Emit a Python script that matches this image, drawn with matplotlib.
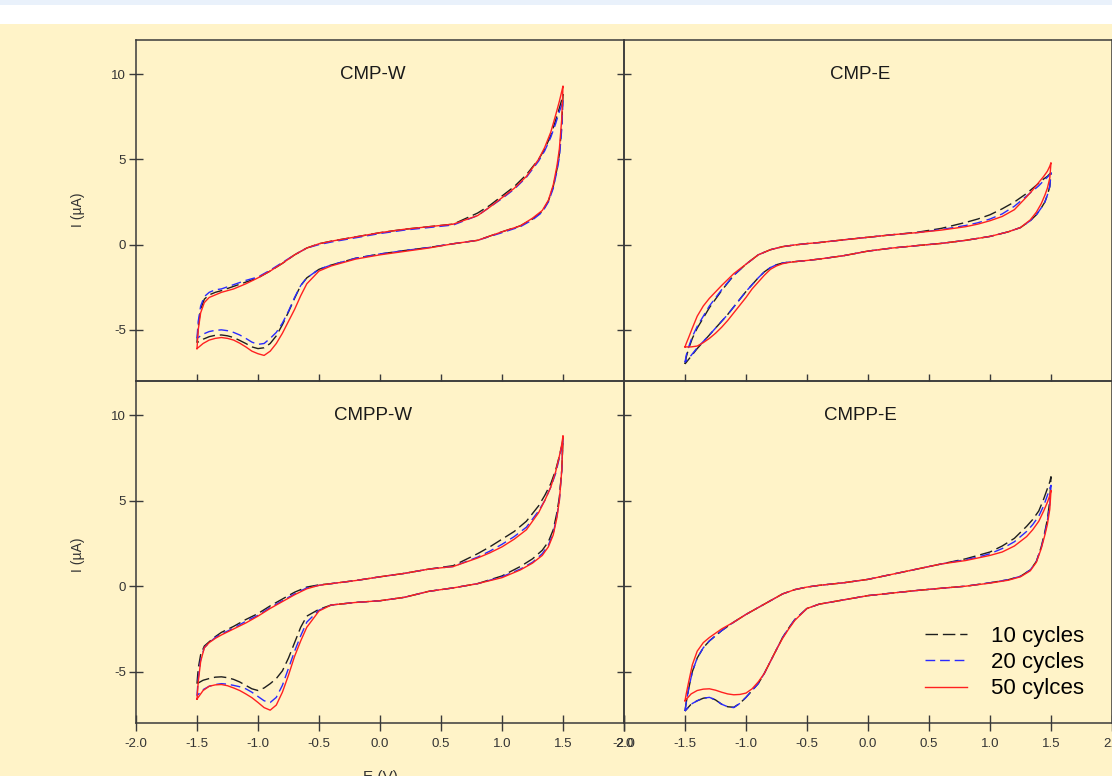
import matplotlib.pyplot as plt
import matplotlib.patches as mpatches

plt.rcParams['font.family'] = ['Liberation Sans', 'DejaVu Sans']
plt.rcParams['axes.unicode_minus'] = False

# potential grid (V): forward scan, then reverse scan
E_UP = [-1.50, -1.49, -1.47, -1.44, -1.40, -1.35, -1.30, -1.20, -1.10, -1.00, -0.90,
        -0.80, -0.70, -0.60, -0.50, -0.40, -0.20, 0.00, 0.20, 0.40, 0.60, 0.80,
        0.90, 1.00, 1.10, 1.20, 1.30, 1.35, 1.40, 1.44, 1.47, 1.49, 1.50]
E_DOWN = [1.50, 1.49, 1.47, 1.45, 1.42, 1.38, 1.33, 1.25, 1.15, 1.00, 0.80, 0.60,
          0.40, 0.20, 0.00, -0.20, -0.40, -0.50, -0.60, -0.65, -0.70, -0.75, -0.80,
          -0.85, -0.90, -0.95, -1.00, -1.05, -1.10, -1.15, -1.20, -1.25, -1.30,
          -1.35, -1.40, -1.45, -1.50]

# CMP-W  (current, uA)
cmpw_10_up = [-5.75, -4.8, -3.8, -3.2, -2.95, -2.8, -2.7, -2.45, -2.2, -1.95, -1.55,
              -1.1, -0.6, -0.2, 0.05, 0.2, 0.45, 0.7, 0.9, 1.05, 1.2, 1.85, 2.3, 2.85,
              3.4, 4.1, 5.0, 5.6, 6.4, 7.3, 8.0, 8.5, 8.8]
cmpw_20_up = [-5.5, -4.5, -3.6, -3.05, -2.8, -2.65, -2.6, -2.35, -2.1, -1.9, -1.5,
              -1.05, -0.6, -0.2, 0.0, 0.15, 0.4, 0.65, 0.85, 1.0, 1.15, 1.7, 2.2, 2.7,
              3.25, 3.95, 4.9, 5.5, 6.3, 7.1, 7.8, 8.2, 8.5]
cmpw_50_up = [-6.1, -5.0, -4.0, -3.4, -3.1, -2.95, -2.8, -2.6, -2.3, -1.95, -1.55,
              -1.1, -0.6, -0.2, 0.05, 0.2, 0.45, 0.7, 0.9, 1.05, 1.2, 1.7, 2.2, 2.75,
              3.3, 4.0, 5.0, 5.7, 6.6, 7.6, 8.4, 9.0, 9.3]
cmpw_10_down = [8.8, 7.0, 5.3, 4.4, 3.4, 2.55, 1.95, 1.5, 1.1, 0.75, 0.25, 0.05,
                -0.17, -0.35, -0.55, -0.8, -1.2, -1.45, -1.95, -2.4, -3.15, -3.95,
                -4.7, -5.35, -5.8, -6.05, -6.1, -6.0, -5.8, -5.62, -5.45, -5.35, -5.3,
                -5.32, -5.4, -5.55, -5.75]
cmpw_20_down = [8.5, 6.8, 5.1, 4.3, 3.3, 2.5, 1.9, 1.45, 1.05, 0.7, 0.25, 0.05,
                -0.17, -0.35, -0.55, -0.8, -1.2, -1.45, -1.95, -2.4, -3.1, -3.9,
                -4.6, -5.15, -5.5, -5.8, -5.85, -5.72, -5.5, -5.3, -5.15, -5.05, -5.0,
                -5.03, -5.1, -5.25, -5.5]
cmpw_50_down = [9.3, 7.4, 5.6, 4.6, 3.5, 2.6, 2.0, 1.55, 1.1, 0.75, 0.25, 0.05,
                -0.2, -0.4, -0.6, -0.85, -1.25, -1.55, -2.3, -3.0, -3.8, -4.5,
                -5.2, -5.8, -6.25, -6.5, -6.4, -6.25, -6.0, -5.78, -5.6, -5.5, -5.45,
                -5.5, -5.6, -5.8, -6.1]

# CMP-E
cmpe_10_up = [-7.0, -6.6, -6.1, -5.5, -4.9, -4.3, -3.7, -2.7, -1.8, -1.15, -0.6,
              -0.3, -0.12, -0.02, 0.06, 0.12, 0.28, 0.43, 0.58, 0.72, 0.95, 1.3, 1.5,
              1.75, 2.1, 2.5, 3.0, 3.3, 3.6, 3.85, 4.0, 4.15, 4.2]
cmpe_20_up = [-6.9, -6.5, -6.0, -5.4, -4.8, -4.2, -3.6, -2.65, -1.8, -1.15, -0.6,
              -0.3, -0.12, -0.02, 0.06, 0.12, 0.28, 0.43, 0.58, 0.7, 0.88, 1.12, 1.28,
              1.5, 1.8, 2.25, 2.85, 3.15, 3.45, 3.75, 3.95, 4.1, 4.2]
cmpe_50_up = [-6.0, -5.8, -5.45, -4.9, -4.2, -3.6, -3.15, -2.4, -1.7, -1.15, -0.6,
              -0.3, -0.12, -0.02, 0.06, 0.12, 0.28, 0.43, 0.58, 0.7, 0.85, 1.05, 1.2,
              1.4, 1.65, 2.05, 2.8, 3.2, 3.65, 4.0, 4.3, 4.6, 4.8]
cmpe_10_down = [4.2, 3.4, 2.9, 2.5, 2.15, 1.75, 1.4, 1.0, 0.75, 0.48, 0.25, 0.07,
                -0.06, -0.2, -0.38, -0.65, -0.85, -0.93, -1.0, -1.03, -1.08, -1.18,
                -1.35, -1.6, -1.95, -2.35, -2.75, -3.2, -3.65, -4.1, -4.5, -4.9, -5.3,
                -5.7, -6.1, -6.55, -7.0]
cmpe_20_down = [4.2, 3.4, 2.9, 2.5, 2.15, 1.75, 1.4, 1.0, 0.75, 0.48, 0.25, 0.07,
                -0.06, -0.2, -0.38, -0.65, -0.85, -0.93, -1.0, -1.03, -1.08, -1.18,
                -1.35, -1.6, -1.95, -2.35, -2.75, -3.2, -3.65, -4.1, -4.5, -4.9, -5.3,
                -5.68, -6.05, -6.5, -6.9]
cmpe_50_down = [4.8, 3.9, 3.3, 2.9, 2.4, 1.9, 1.45, 1.0, 0.75, 0.48, 0.25, 0.07,
                -0.06, -0.2, -0.38, -0.65, -0.85, -0.93, -1.0, -1.05, -1.12, -1.25,
                -1.45, -1.8, -2.2, -2.6, -3.1, -3.55, -4.0, -4.45, -4.85, -5.2, -5.5,
                -5.75, -5.95, -6.0, -6.0]

# CMPP-W
cmppw_10_up = [-5.7, -4.8, -4.0, -3.5, -3.25, -2.95, -2.7, -2.35, -1.95, -1.6, -1.15,
               -0.75, -0.35, -0.05, 0.08, 0.15, 0.33, 0.55, 0.75, 1.0, 1.2, 1.9, 2.3,
               2.75, 3.2, 3.8, 4.7, 5.3, 6.0, 6.8, 7.6, 8.2, 8.6]
cmppw_20_up = [-6.4, -5.4, -4.3, -3.6, -3.3, -3.0, -2.8, -2.45, -2.05, -1.7, -1.25,
               -0.85, -0.45, -0.1, 0.05, 0.15, 0.33, 0.55, 0.75, 1.0, 1.15, 1.7, 2.05,
               2.45, 2.9, 3.45, 4.4, 5.0, 5.8, 6.6, 7.5, 8.2, 8.7]
cmppw_50_up = [-6.6, -5.6, -4.4, -3.6, -3.3, -3.05, -2.85, -2.5, -2.15, -1.75, -1.3,
               -0.9, -0.5, -0.15, 0.05, 0.15, 0.33, 0.55, 0.75, 1.0, 1.15, 1.65, 1.95,
               2.3, 2.75, 3.3, 4.3, 5.0, 5.8, 6.7, 7.6, 8.3, 8.8]
cmppw_10_down = [8.6, 6.8, 5.2, 4.3, 3.3, 2.6, 2.1, 1.6, 1.15, 0.6, 0.15, -0.1,
                 -0.3, -0.65, -0.85, -0.95, -1.1, -1.35, -1.75, -2.4, -3.3, -4.2,
                 -4.95, -5.4, -5.7, -5.95, -6.1, -6.0, -5.8, -5.6, -5.45, -5.35, -5.3,
                 -5.32, -5.4, -5.5, -5.7]
cmppw_20_down = [8.7, 6.8, 5.0, 4.1, 3.1, 2.4, 1.9, 1.4, 1.0, 0.55, 0.15, -0.1,
                 -0.3, -0.65, -0.85, -0.95, -1.1, -1.4, -2.1, -2.9, -3.8, -4.8,
                 -5.8, -6.5, -6.8, -6.7, -6.45, -6.2, -6.0, -5.88, -5.8, -5.73, -5.7,
                 -5.75, -5.85, -6.05, -6.4]
cmppw_50_down = [8.8, 6.8, 5.0, 4.0, 3.0, 2.3, 1.8, 1.35, 0.95, 0.5, 0.15, -0.1,
                 -0.3, -0.65, -0.85, -0.95, -1.1, -1.45, -2.4, -3.2, -4.1, -5.2,
                 -6.2, -6.95, -7.25, -7.1, -6.8, -6.52, -6.3, -6.1, -5.95, -5.82, -5.75,
                 -5.77, -5.85, -6.1, -6.6]

# CMPP-E
cmppe_10_up = [-7.3, -6.8, -6.0, -5.0, -4.2, -3.6, -3.2, -2.6, -2.1, -1.65, -1.25,
               -0.85, -0.45, -0.2, -0.05, 0.05, 0.2, 0.4, 0.7, 1.0, 1.3, 1.6, 1.8,
               2.0, 2.35, 2.8, 3.5, 3.9, 4.4, 5.1, 5.7, 6.1, 6.4]
cmppe_20_up = [-7.3, -6.8, -6.0, -5.0, -4.2, -3.6, -3.2, -2.6, -2.1, -1.65, -1.25,
               -0.85, -0.45, -0.2, -0.05, 0.05, 0.2, 0.4, 0.7, 1.0, 1.3, 1.55, 1.7,
               1.9, 2.2, 2.6, 3.2, 3.6, 4.1, 4.7, 5.3, 5.7, 5.9]
cmppe_50_up = [-6.7, -6.3, -5.6, -4.6, -3.8, -3.3, -3.0, -2.5, -2.1, -1.65, -1.25,
               -0.85, -0.45, -0.2, -0.05, 0.05, 0.2, 0.4, 0.7, 1.0, 1.3, 1.5, 1.65,
               1.8, 2.0, 2.35, 2.9, 3.3, 3.8, 4.4, 4.9, 5.3, 5.6]
cmppe_10_down = [6.4, 5.0, 3.9, 3.2, 2.3, 1.45, 0.95, 0.58, 0.38, 0.2, 0.0, -0.12,
                 -0.25, -0.4, -0.55, -0.8, -1.05, -1.3, -1.95, -2.45, -3.0, -3.7,
                 -4.4, -5.1, -5.7, -6.1, -6.5, -6.85, -7.08, -7.05, -6.9, -6.65, -6.5,
                 -6.55, -6.7, -6.9, -7.3]
cmppe_20_down = [5.9, 4.8, 3.8, 3.1, 2.25, 1.45, 0.95, 0.58, 0.38, 0.2, 0.0, -0.12,
                 -0.25, -0.4, -0.55, -0.8, -1.05, -1.3, -1.95, -2.45, -3.0, -3.7,
                 -4.4, -5.1, -5.7, -6.1, -6.5, -6.85, -7.1, -7.05, -6.9, -6.65, -6.5,
                 -6.55, -6.7, -6.9, -7.3]
cmppe_50_down = [5.6, 4.5, 3.6, 3.0, 2.2, 1.4, 0.9, 0.55, 0.35, 0.18, 0.0, -0.12,
                 -0.25, -0.4, -0.55, -0.8, -1.05, -1.3, -2.0, -2.5, -3.05, -3.7,
                 -4.4, -5.1, -5.6, -6.0, -6.25, -6.33, -6.35, -6.3, -6.2, -6.08, -6.0,
                 -6.02, -6.1, -6.3, -6.7]

LABELS = ['10 cycles', '20 cycles', '50 cylces']
TITLES = ['CMP-W', 'CMP-E', 'CMPP-W', 'CMPP-E']
XTICKS = [-2.0, -1.5, -1.0, -0.5, 0.0, 0.5, 1.0, 1.5, 2.0]
YTICKS = [-5, 0, 5, 10]

panel_data = [
    [(cmpw_10_up, cmpw_10_down), (cmpw_20_up, cmpw_20_down), (cmpw_50_up, cmpw_50_down)],
    [(cmpe_10_up, cmpe_10_down), (cmpe_20_up, cmpe_20_down), (cmpe_50_up, cmpe_50_down)],
    [(cmppw_10_up, cmppw_10_down), (cmppw_20_up, cmppw_20_down), (cmppw_50_up, cmppw_50_down)],
    [(cmppe_10_up, cmppe_10_down), (cmppe_20_up, cmppe_20_down), (cmppe_50_up, cmppe_50_down)],
]

styles = [dict(color='#1e1e1e', dashes=(9, 3.5)),
          dict(color='#2a2aff', dashes=(7, 3.5)),
          dict(color='#ff2020')]

BG = '#fff3c8'
INK = '#3a3a3a'
W, H = 1112, 776

fig = plt.figure(figsize=(W / 100, H / 100), dpi=100)
fig.patch.set_facecolor(BG)
fig.patches.append(mpatches.Rectangle((0, 1 - 24 / H), 1, 24 / H, transform=fig.transFigure,
                                      facecolor='white', edgecolor='none'))
fig.patches.append(mpatches.Rectangle((0, 1 - 5 / H), 1, 5 / H, transform=fig.transFigure,
                                      facecolor='#e9f1fb', edgecolor='none'))

# panel rectangles in pixels: left, top, right, bottom
boxes = [(136, 40, 624, 381), (624, 40, 1112, 381),
         (136, 381, 624, 723), (624, 381, 1112, 723)]

for i, (l, t, r, b) in enumerate(boxes):
    ax = fig.add_axes([l / W, 1 - b / H, (r - l) / W, (b - t) / H])
    ax.set_facecolor('none')
    for (up, down), st in zip(panel_data[i], styles):
        ax.plot(E_UP + E_DOWN, up + down, lw=1.0, **st)
    ax.set_xlim(-2, 2)
    ax.set_ylim(-8, 12)
    for s in ax.spines.values():
        s.set_color(INK)
        s.set_linewidth(1.1)
    ax.text(0.485, 0.9, TITLES[i], transform=ax.transAxes, ha='center', va='center',
            fontsize=13.5, color='#1a1a1a')
    ax.set_yticks(YTICKS)
    ax.tick_params(axis='y', direction='inout', length=10, width=1, color=INK,
                   labelsize=9.5, labelcolor='#333333', pad=2, labelleft=(i % 2 == 0))
    if i < 2:
        ax.set_xticks(XTICKS[1:-1])
        ax.tick_params(axis='x', direction='in', length=5, width=1, color=INK,
                       labelbottom=False)
    else:
        ax.set_xticks(XTICKS)
        ax.set_xticklabels([f'{v:.1f}' for v in XTICKS])
        ax.tick_params(axis='x', direction='inout', length=12, width=1, color=INK,
                       labelsize=9.5, labelcolor='#333333', pad=5)
    if i == 3:
        ax.legend(LABELS, loc='center left', bbox_to_anchor=(0.617, 0.177),
                  frameon=False, fontsize=16, handlelength=1.9, handletextpad=1.05,
                  labelspacing=0.24, borderpad=0, borderaxespad=0)

fig.text(78 / W, 1 - 210 / H, 'I (µA)', rotation=90, ha='center', va='center',
         fontsize=10, color='#333333')
fig.text(78 / W, 1 - 555 / H, 'I (µA)', rotation=90, ha='center', va='center',
         fontsize=10, color='#333333')
fig.text(380 / W, 1 - 770 / H, 'E (V)', ha='center', va='top', fontsize=11,
         color='#333333')

fig.savefig('out.png', dpi=100, facecolor=BG)
